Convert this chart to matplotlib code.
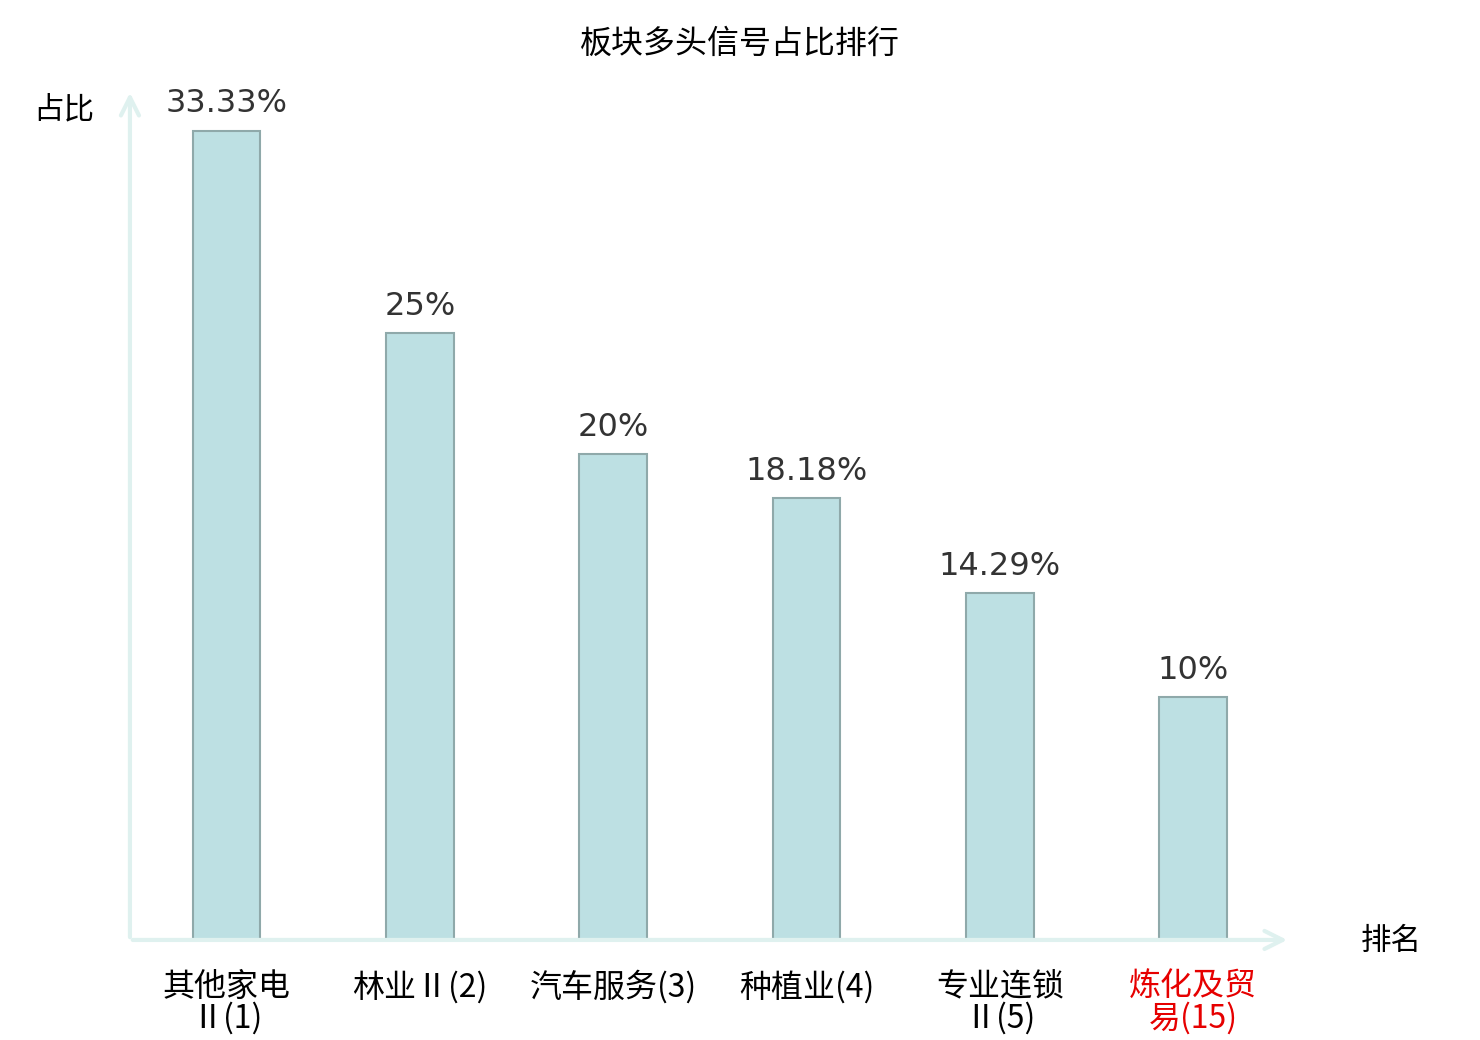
import matplotlib.pyplot as plt

# --------- Data ---------
categories = ["其他家电\nⅡ(1)", "林业Ⅱ(2)", "汽车服务(3)", "种植业(4)", "专业连锁\nⅡ(5)", "炼化及贸\n易(15)"]
shares = [33.33, 25, 20, 18.18, 14.29, 10]
share_labels = ["33.33%", "25%", "20%", "18.18%", "14.29%", "10%"]
label_colors = ["black", "black", "black", "black", "black", "#e60000"]

cjk = ["Noto Sans CJK SC", "DejaVu Sans"]
axis_color = "#dff1ef"

fig = plt.figure(figsize=(14.8, 10.4), dpi=100)
ax = fig.add_axes([0.0878, 0.0962, 0.7838, 0.8173])

x = range(len(categories))
bars = ax.bar(x, shares, width=0.35, color="#bde0e3", edgecolor="#8fa9aa", linewidth=1.5)
ax.bar_label(bars, labels=share_labels, padding=8, fontsize=23, color="#333333",
             family="DejaVu Sans")

ax.set_xlim(-0.5, 5.5)
ax.set_ylim(0, 35)

# Axes drawn as arrows
for s in ax.spines.values():
    s.set_visible(False)
ax.annotate("", xy=(1.0, 0), xytext=(0, 0), xycoords="axes fraction",
            arrowprops=dict(arrowstyle="->,head_length=1.3,head_width=0.65",
                            color=axis_color, lw=3))
ax.annotate("", xy=(0, 1.0), xytext=(0, 0), xycoords="axes fraction",
            arrowprops=dict(arrowstyle="->,head_length=1.3,head_width=0.65",
                            color=axis_color, lw=3))

ax.set_yticks([])
ax.set_xticks(list(x))
ax.set_xticklabels(categories, family=cjk, fontsize=23, linespacing=0.98)
ax.tick_params(axis="x", length=0, pad=22)
for lbl, c in zip(ax.get_xticklabels(), label_colors):
    lbl.set_color(c)

fig.text(0.5, 0.958, "板块多头信号占比排行", ha="center", va="center", family=cjk, fontsize=23)
fig.text(0.043, 0.894, "占比", ha="center", va="center", family=cjk, fontsize=22)
fig.text(0.940, 0.095, "排名", ha="center", va="center", family=cjk, fontsize=22)

fig.savefig("out.png", dpi=100)
